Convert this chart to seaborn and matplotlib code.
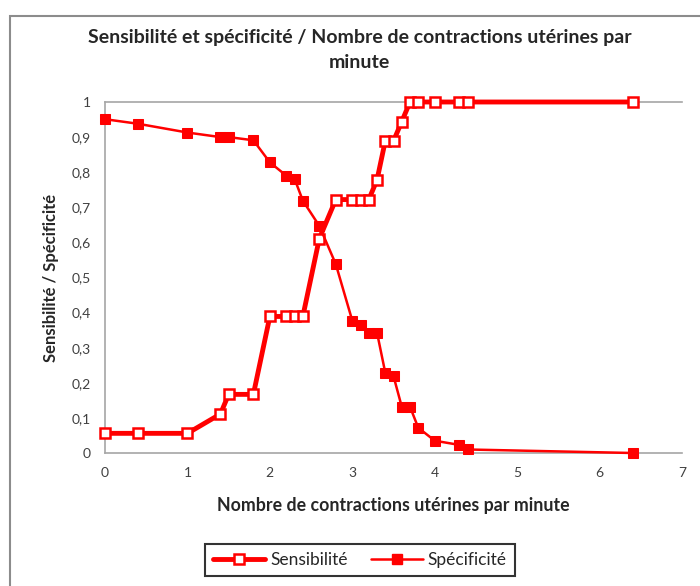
import matplotlib
matplotlib.use("Agg")
import matplotlib.pyplot as plt
import seaborn as sns
import pandas as pd
from matplotlib.lines import Line2D
from matplotlib.patches import Rectangle

# Seuils (contractions / minute) et valeurs
seuils = [0, 0.4, 1.0, 1.4, 1.5, 1.8, 2.0, 2.2, 2.3, 2.4, 2.6, 2.8, 3.0, 3.1, 3.2,
          3.3, 3.4, 3.5, 3.6, 3.7, 3.8, 4.0, 4.3, 4.4, 6.4]
sensibilite = [0.056, 0.056, 0.056, 0.111, 0.167, 0.167, 0.389, 0.389, 0.389, 0.389,
               0.611, 0.722, 0.722, 0.722, 0.722, 0.778, 0.889, 0.889, 0.944, 1.0,
               1.0, 1.0, 1.0, 1.0, 1.0]
specificite = [0.951, 0.938, 0.913, 0.900, 0.900, 0.891, 0.828, 0.790, 0.781, 0.719,
               0.647, 0.538, 0.377, 0.365, 0.343, 0.343, 0.229, 0.219, 0.132, 0.132,
               0.072, 0.035, 0.023, 0.010, 0.0]
y_ticks = [0, 0.1, 0.2, 0.3, 0.4, 0.5, 0.6, 0.7, 0.8, 0.9, 1]
x_ticks = [0, 1, 2, 3, 4, 5, 6, 7]

df = pd.DataFrame({"seuil": seuils, "Sensibilité": sensibilite, "Spécificité": specificite})

sns.set_style("white")
plt.rcParams['font.family'] = ['Lato', 'DejaVu Sans']

fig = plt.figure(figsize=(7, 5.86), dpi=100)
# cadre gris du graphique
fig.patches.append(Rectangle((10 / 700, -0.05), 1.0, 1 - 16 / 586 + 0.05, transform=fig.transFigure,
                             fill=False, edgecolor='#8c8c8c', linewidth=1.5))
ax = fig.add_axes([105 / 700, 1 - 453 / 586, 577 / 700, 351 / 586])

sns.lineplot(data=df, x="seuil", y="Sensibilité", ax=ax, sort=False, color='red', linewidth=3.5,
             marker='s', markersize=7, markerfacecolor='white', markeredgecolor='red',
             markeredgewidth=1.8, clip_on=False, zorder=3)
sns.lineplot(data=df, x="seuil", y="Spécificité", ax=ax, sort=False, color='red', linewidth=1.8,
             marker='s', markersize=7.5, markerfacecolor='red', markeredgecolor='red',
             clip_on=False, zorder=4)

ax.set_xlim(0, 7)
ax.set_ylim(0, 1)
ax.set_xticks(x_ticks)
ax.set_yticks(y_ticks)
ax.set_yticklabels([f"{v:g}".replace('.', ',') for v in y_ticks])
for side in ['left', 'bottom', 'top']:
    ax.spines[side].set_color('#a6a6a6')
    ax.spines[side].set_linewidth(1.2)
ax.spines['right'].set_visible(False)
ax.tick_params(axis='both', direction='inout', length=8, width=1, color='#a6a6a6',
               labelsize=10, labelcolor='#404040')
ax.tick_params(axis='x', pad=6)
ax.tick_params(axis='y', pad=6)

ax.set_xlabel("Nombre de contractions utérines par minute", fontsize=12.8, fontweight='bold', labelpad=13)
ax.set_ylabel("Sensibilité / Spécificité", fontsize=12, fontweight='bold', labelpad=9)
fig.text(0.514, 1 - 50 / 586, "Sensibilité et spécificité / Nombre de contractions utérines par\nminute",
         ha='center', va='center', fontsize=14, fontweight='bold', linespacing=1.5)

handles = [
    Line2D([], [], color='red', linewidth=3.5, marker='s', markersize=7, markerfacecolor='white',
           markeredgecolor='red', markeredgewidth=1.8),
    Line2D([], [], color='red', linewidth=1.8, marker='s', markersize=7.5, markerfacecolor='red'),
]
leg = fig.legend(handles, ["Sensibilité", "Spécificité"], loc='center', bbox_to_anchor=(360 / 700, 1 - 560 / 586),
                 ncol=2, frameon=True, fancybox=False, edgecolor='black', fontsize=12.5,
                 handlelength=3, handletextpad=0.3, columnspacing=1.3, borderpad=0.45, borderaxespad=0)
leg.get_frame().set_linewidth(1.5)

fig.savefig("out.png", dpi=100)
